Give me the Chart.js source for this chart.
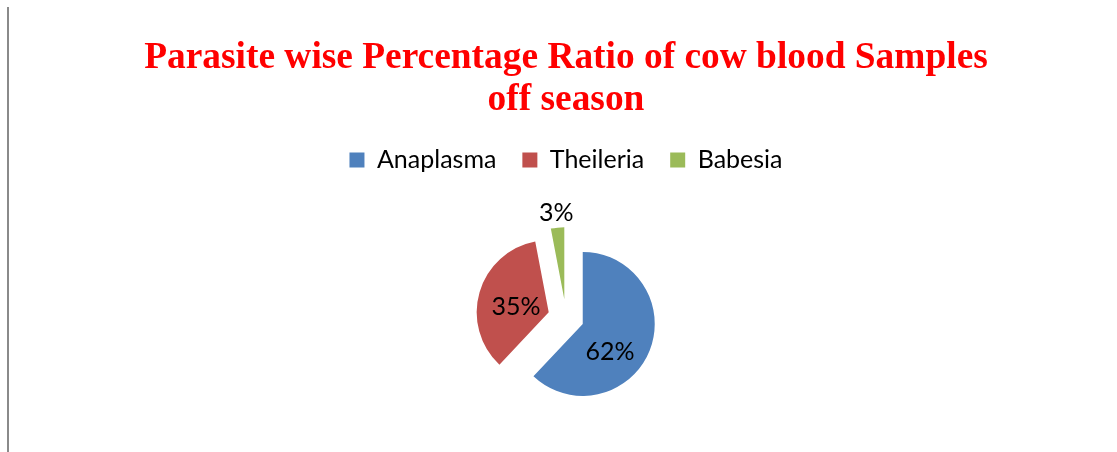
<!DOCTYPE html>
<html>
<head>
<meta charset="utf-8">
<script src="https://cdn.jsdelivr.net/npm/chart.js@4/dist/chart.umd.min.js"></script>
<style>
html, body { margin: 0; padding: 0; background: #fff; }
#wrap { position: relative; width: 1117px; height: 452px; }
#edge { position: absolute; left: 7px; top: 7px; width: 2px; height: 445px; background: #8a8a8a; }
canvas { position: absolute; left: 0; top: 0; }
</style>
</head>
<body>
<div id="wrap">
  <div id="edge"></div>
  <canvas id="pie" width="1117" height="452"></canvas>
</div>
<script>
// data
const parasites = ['Anaplasma', 'Theileria', 'Babesia'];
const percents = [62, 35, 3];
const sliceColors = ['#4F81BD', '#C0504D', '#9BBB59'];
const titleLines = ['Parasite wise Percentage Ratio of cow blood Samples', 'off season'];

const labelFont = 'Lato';
const explodePx = 18;
// where each % label sits: turn away from the mid angle (deg) and radius share
const labelSpots = [{ turn: 24, r: 0.54 }, { turn: -7, r: 0.46 }, { turn: 0, r: 1.2 }];

// pull every slice out along its middle angle (like an exploded excel pie)
const explode = {
  id: 'explode',
  afterDatasetUpdate(chart, args) {
    const meta = chart.getDatasetMeta(args.index);
    meta.data.forEach(arc => {
      const mid = (arc.startAngle + arc.endAngle) / 2;
      arc.x += Math.cos(mid) * explodePx;
      arc.y += Math.sin(mid) * explodePx;
    });
  }
};

const pctLabels = {
  id: 'pctLabels',
  afterDatasetsDraw(chart) {
    const ctx = chart.ctx;
    const meta = chart.getDatasetMeta(0);
    const total = percents.reduce((a, b) => a + b, 0);
    ctx.save();
    ctx.font = '25px ' + labelFont;
    ctx.fillStyle = '#000';
    ctx.textAlign = 'center';
    ctx.textBaseline = 'middle';
    meta.data.forEach((arc, i) => {
      const spot = labelSpots[i];
      const ang = (arc.startAngle + arc.endAngle) / 2 + spot.turn * Math.PI / 180;
      const r = arc.outerRadius * spot.r;
      const txt = Math.round(percents[i] / total * 100) + '%';
      ctx.fillText(txt, arc.x + Math.cos(ang) * r, arc.y + Math.sin(ang) * r);
    });
    ctx.restore();
  }
};

new Chart(document.getElementById('pie'), {
  type: 'pie',
  data: {
    labels: parasites,
    datasets: [{
      data: percents,
      backgroundColor: sliceColors,
      borderWidth: 0
    }]
  },
  options: {
    responsive: false,
    animation: false,
    radius: 72,
    layout: { padding: { left: 15, right: 0, top: 0, bottom: -5 } },
    plugins: {
      title: {
        display: true,
        text: titleLines,
        color: '#FF0000',
        font: { family: 'Liberation Serif', size: 37.4, weight: 'bold', lineHeight: 1.13 },
        padding: { top: 37, bottom: 0 }
      },
      legend: {
        position: 'top',
        labels: {
          color: '#000',
          font: { family: labelFont, size: 25 },
          boxWidth: 15,
          boxHeight: 15,
          padding: 26
        }
      },
      tooltip: { enabled: false }
    }
  },
  plugins: [explode, pctLabels]
});
</script>
</body>
</html>
